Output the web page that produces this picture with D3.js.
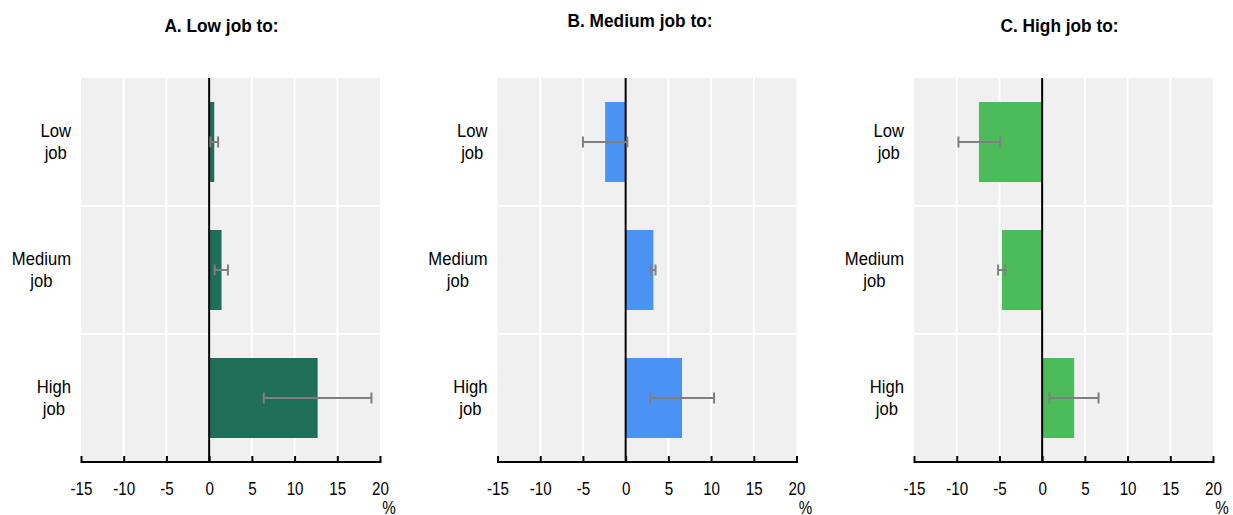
<!DOCTYPE html>
<html>
<head>
<meta charset="utf-8">
<script src="https://cdn.jsdelivr.net/npm/d3@7"></script>
<style>
  body { margin: 0; background: #fff; }
  svg text { font-family: "Liberation Sans", Arial, sans-serif; fill: #000; }
</style>
</head>
<body>
<svg id="chart" width="1233" height="515"></svg>
<script>
// data
var panels = ['A. Low job to:', 'B. Medium job to:', 'C. High job to:'];
var categories = ['Low job', 'Medium job', 'High job'];
var colors = ['#1f6e58', '#4a93f5', '#4cbb5a'];
var ticks = [-15, -10, -5, 0, 5, 10, 15, 20];

var valuesA = [0.6, 1.45, 12.7];
var lowA = [0.15, 0.65, 6.4];
var highA = [1.05, 2.2, 19.0];

var valuesB = [-2.4, 3.25, 6.6];
var lowB = [-5.0, 2.95, 2.85];
var highB = [0.2, 3.5, 10.35];

var valuesC = [-7.4, -4.7, 3.75];
var lowC = [-9.8, -5.15, 0.85];
var highC = [-4.9, -4.3, 6.6];

var series = [
  { values: valuesA, low: lowA, high: highA },
  { values: valuesB, low: lowB, high: highB },
  { values: valuesC, low: lowC, high: highC }
];

// layout
var svg = d3.select('#chart');
var plotLefts = [81, 497.5, 914];
var plotWidth = 299;
var plotTop = 78, plotBottom = 462;
var titleY = [32, 27, 32];
var titleShift = [-9, -7, -4];
// squeeze Liberation Sans to look like Arial Narrow
var tickNarrow = 0.82, labelNarrow = 0.9, titleNarrow = 0.91;

var y = d3.scaleBand()
          .domain(categories)
          .range([plotTop, plotBottom]);
var barH = y.bandwidth() * 0.625;

// text drawn at (x, y), squeezed horizontally round its anchor
function narrowText(sel, x, y, size, k) {
  return sel.append('g')
      .attr('transform', 'translate(' + x + ',' + y + ') scale(' + k + ',1)')
    .append('text')
      .attr('font-size', size)
      .style('text-anchor', 'middle');
}

panels.forEach(function(title, i) {
  var left = plotLefts[i];
  var x = d3.scaleLinear()
            .domain([-15, 20])
            .range([left, left + plotWidth]);
  var g = svg.append('g');
  var s = series[i];

  // background
  g.append('rect')
      .attr('x', left)
      .attr('y', plotTop)
      .attr('width', plotWidth)
      .attr('height', plotBottom - plotTop)
      .attr('fill', '#f0f0f0');

  // grid
  g.selectAll('.vgrid')
    .data(ticks.slice(1, -1))
    .enter()
      .append('line')
      .attr('x1', d => x(d))
      .attr('x2', d => x(d))
      .attr('y1', plotTop)
      .attr('y2', plotBottom)
      .attr('stroke', '#fff')
      .attr('stroke-width', 2);

  g.selectAll('.hgrid')
    .data(categories.slice(1))
    .enter()
      .append('line')
      .attr('x1', left)
      .attr('x2', left + plotWidth)
      .attr('y1', d => y(d))
      .attr('y2', d => y(d))
      .attr('stroke', '#fff')
      .attr('stroke-width', 2);

  // bars
  g.selectAll('.bar')
    .data(s.values)
    .enter()
      .append('rect')
      .attr('x', d => x(Math.min(0, d)))
      .attr('width', d => Math.abs(x(d) - x(0)))
      .attr('y', (d, j) => y(categories[j]) + (y.bandwidth() - barH) / 2)
      .attr('height', barH)
      .attr('fill', colors[i]);

  // zero line
  g.append('line')
      .attr('x1', x(0))
      .attr('x2', x(0))
      .attr('y1', plotTop)
      .attr('y2', plotBottom)
      .attr('stroke', '#000')
      .attr('stroke-width', 2);

  // error bars
  var err = g.selectAll('.err')
    .data(s.values.map((d, j) => ({ lo: s.low[j], hi: s.high[j], cat: categories[j] })))
    .enter()
      .append('g')
      .attr('stroke', '#7f7f7f')
      .attr('stroke-width', 2);
  err.append('line')
      .attr('x1', d => x(d.lo))
      .attr('x2', d => x(d.hi))
      .attr('y1', d => y(d.cat) + y.bandwidth() / 2)
      .attr('y2', d => y(d.cat) + y.bandwidth() / 2);
  ['lo', 'hi'].forEach(function(k) {
    err.append('line')
        .attr('x1', d => x(d[k]))
        .attr('x2', d => x(d[k]))
        .attr('y1', d => y(d.cat) + y.bandwidth() / 2 - 5.5)
        .attr('y2', d => y(d.cat) + y.bandwidth() / 2 + 5.5);
  });

  // x axis
  var axis = g.append('g')
      .attr('transform', 'translate(0,' + plotBottom + ')')
      .call(d3.axisBottom(x).tickValues(ticks).tickFormat(d => String(d))
              .tickSize(-6).tickPadding(14).tickSizeOuter(0));
  axis.select('.domain').attr('stroke', '#000').attr('stroke-width', 2)
      .attr('d', 'M' + left + ',0H' + (left + plotWidth));
  axis.selectAll('.tick line').attr('stroke', '#000').attr('stroke-width', 2).attr('y1', 1);
  axis.selectAll('.tick text')
      .attr('font-size', '18.5px')
      .attr('fill', '#000')
      .attr('y', 0)
      .attr('dy', 33)
      .attr('transform', 'scale(' + tickNarrow + ',1)');

  narrowText(g, left + plotWidth + 9, 514, '18.5px', tickNarrow).text('%');

  // y labels
  categories.forEach(function(c) {
    var words = c.split(' ');
    var cy = y(c) + y.bandwidth() / 2;
    var t = narrowText(g, 0, cy, '18.5px', labelNarrow);
    words.forEach(function(w, k) {
      t.append('tspan')
          .attr('x', 0)
          .attr('y', (k - (words.length - 1) / 2) * 23 + 6)
          .text(w);
    });
    var maxW = d3.max(t.selectAll('tspan').nodes(), n => n.getComputedTextLength()) * labelNarrow;
    d3.select(t.node().parentNode)
        .attr('transform', 'translate(' + (left - 10 - maxW / 2) + ',' + cy + ') scale(' + labelNarrow + ',1)');
  });

  // title
  narrowText(g, left + plotWidth / 2 + titleShift[i], titleY[i], '19px', titleNarrow)
      .attr('font-weight', 'bold')
      .text(title);
});
</script>
</body>
</html>
